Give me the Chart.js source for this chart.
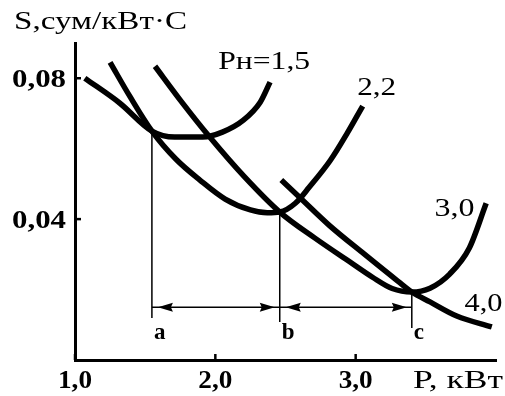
<!DOCTYPE html>
<html>
<head>
<meta charset="utf-8">
<script src="https://cdn.jsdelivr.net/npm/chart.js@4.4.1/dist/chart.umd.min.js"></script>
<style>
  html, body { margin: 0; padding: 0; background: #fff; }
</style>
</head>
<body>
<canvas id="costChart" width="505" height="396"></canvas>
<script>
// S(P) cost curves, one per motor rating Pн
const p15 = [1.07, 1.32, 1.548, 1.71, 1.91, 2.05, 2.20, 2.32, 2.39];
const s15 = [0.0800, 0.0729, 0.0650, 0.0633, 0.0633, 0.0647, 0.0681, 0.0732, 0.0789];

const p22 = [1.25, 1.39, 1.548, 1.72, 1.89, 2.07, 2.25, 2.37, 2.459, 2.57, 2.67, 2.82, 2.94, 3.05];
const s22 = [0.0845, 0.0749, 0.0650, 0.0570, 0.0511, 0.0457, 0.0426, 0.0418, 0.0420, 0.0445, 0.0491, 0.0567, 0.0644, 0.0721];

const p30 = [1.57, 1.75, 1.96, 2.21, 2.459, 2.71, 2.96, 3.12, 3.26, 3.40, 3.53, 3.67, 3.81, 3.93];
const s30 = [0.0834, 0.0738, 0.0633, 0.0519, 0.0420, 0.0346, 0.0278, 0.0235, 0.0203, 0.0193, 0.0204, 0.0244, 0.0318, 0.0445];

const p40 = [2.47, 2.60, 2.81, 3.06, 3.30, 3.40, 3.53, 3.72, 3.97];
const s40 = [0.0511, 0.0462, 0.0383, 0.0301, 0.0224, 0.0193, 0.0165, 0.0125, 0.0094];

// curve captions, anchored in data units
const curveNames = ['Pн=1,5', '2,2', '3,0', '4,0'];
const nameP = [2.02, 3.15, 3.705, 3.911];
const nameS = [0.0845, 0.0772, 0.0428, 0.0159];

// switch points between neighbouring ratings
const crossNames = ['a', 'b', 'c'];
const crossP = [1.548, 2.459, 3.40];
const crossS = [0.0650, 0.0420, 0.0193];
const dropS = [0.0119, 0.0108, 0.0091];
const spanS = 0.0150;

// axis ticks
const xTicks = [1, 2, 3];
const xTickLabels = ['1,0', '2,0', '3,0'];
const yTicks = [0.04, 0.08];
const yTickLabels = ['0,04', '0,08'];
const xTitle = 'P, кВт';
const yTitle = 'S,сум/кВт·С';

const zip = (xs, ys) => xs.map((v, i) => ({ x: v, y: ys[i] }));

const curve = (xs, ys) => ({
  data: zip(xs, ys),
  showLine: true,
  borderColor: '#000',
  borderWidth: 5.5,
  pointRadius: 0,
  cubicInterpolationMode: 'monotone'
});

const thin = (pts) => ({
  data: pts,
  showLine: true,
  borderColor: '#000',
  borderWidth: 1.5,
  pointRadius: 0
});

const datasets = [curve(p15, s15), curve(p22, s22), curve(p30, s30), curve(p40, s40)];
crossP.forEach((p, i) => {
  datasets.push(thin([{ x: p, y: crossS[i] }, { x: p, y: dropS[i] }]));
});
datasets.push(thin([{ x: crossP[0], y: spanS }, { x: crossP[2], y: spanS }]));

const SERIF = '"Liberation Serif", "Times New Roman", serif';

// text squeezed or widened to a given width (natural width when w is omitted)
function put(ctx, text, px, py, font, align, w) {
  ctx.save();
  ctx.font = font;
  ctx.textAlign = align;
  ctx.textBaseline = 'middle';
  ctx.fillStyle = '#000';
  const sx = w ? w / ctx.measureText(text).width : 1;
  ctx.translate(px, py);
  ctx.scale(sx, 1);
  ctx.fillText(text, 0, 0);
  ctx.restore();
}

function arrowHead(ctx, tipX, tipY, dir) {
  const len = 15, half = 4.5;
  ctx.beginPath();
  ctx.moveTo(tipX, tipY);
  ctx.lineTo(tipX - dir * len, tipY - half);
  ctx.lineTo(tipX - dir * (len - 2), tipY);
  ctx.lineTo(tipX - dir * len, tipY + half);
  ctx.closePath();
  ctx.fill();
}

const overlay = {
  id: 'overlay',
  afterDraw(chart) {
    const { ctx, chartArea, scales: { x, y } } = chart;
    ctx.save();
    ctx.strokeStyle = '#000';
    ctx.fillStyle = '#000';
    ctx.lineWidth = 2.5;

    // inward tick marks
    xTicks.forEach(v => {
      const px = x.getPixelForValue(v);
      ctx.beginPath();
      ctx.moveTo(px, chartArea.bottom);
      ctx.lineTo(px, chartArea.bottom - 6);
      ctx.stroke();
    });
    yTicks.forEach(v => {
      const py = y.getPixelForValue(v);
      ctx.beginPath();
      ctx.moveTo(chartArea.left, py);
      ctx.lineTo(chartArea.left + 6, py);
      ctx.stroke();
    });

    // tick labels and axis titles
    const tickFont = 'bold 26px ' + SERIF;
    xTicks.forEach((v, i) => put(ctx, xTickLabels[i], x.getPixelForValue(v), 381, tickFont, 'center', 34));
    yTicks.forEach((v, i) => put(ctx, yTickLabels[i], chartArea.left - 9, y.getPixelForValue(v) + 2, tickFont, 'right', 54));
    put(ctx, xTitle, 413, 381, '26px ' + SERIF, 'left', 90);
    put(ctx, yTitle, 14, 22, '26px ' + SERIF, 'left', 173);

    // curve captions
    const capWidths = [92, 39, 40, 38];
    curveNames.forEach((t, i) => {
      const align = i === 0 ? 'left' : 'center';
      put(ctx, t, x.getPixelForValue(nameP[i]), y.getPixelForValue(nameS[i]), '25px ' + SERIF, align, capWidths[i]);
    });

    // arrows between switch points
    const ay = y.getPixelForValue(spanS);
    for (let i = 0; i < crossP.length - 1; i++) {
      const left = x.getPixelForValue(crossP[i]);
      const right = x.getPixelForValue(crossP[i + 1]);
      arrowHead(ctx, left + 6, ay, -1);
      arrowHead(ctx, right - 5, ay, 1);
    }

    // switch point letters
    crossP.forEach((p, i) => {
      put(ctx, crossNames[i], x.getPixelForValue(p) + 2, 333, 'bold 23px ' + SERIF, 'left');
    });
    ctx.restore();
  }
};

new Chart(document.getElementById('costChart'), {
  type: 'scatter',
  data: { datasets },
  options: {
    responsive: false,
    animation: false,
    layout: { padding: { left: 0, right: 9, top: 43, bottom: 0 } },
    plugins: { legend: { display: false }, tooltip: { enabled: false } },
    scales: {
      x: {
        type: 'linear',
        min: 1,
        max: 4,
        grid: { display: false },
        border: { display: true, color: '#000', width: 3 },
        ticks: { display: false },
        afterFit: s => { s.height = 36; }
      },
      y: {
        type: 'linear',
        min: 0,
        max: 0.09,
        grid: { display: false },
        border: { display: true, color: '#000', width: 3 },
        ticks: { display: false },
        afterFit: s => { s.width = 75; }
      }
    }
  },
  plugins: [overlay]
});
</script>
</body>
</html>
